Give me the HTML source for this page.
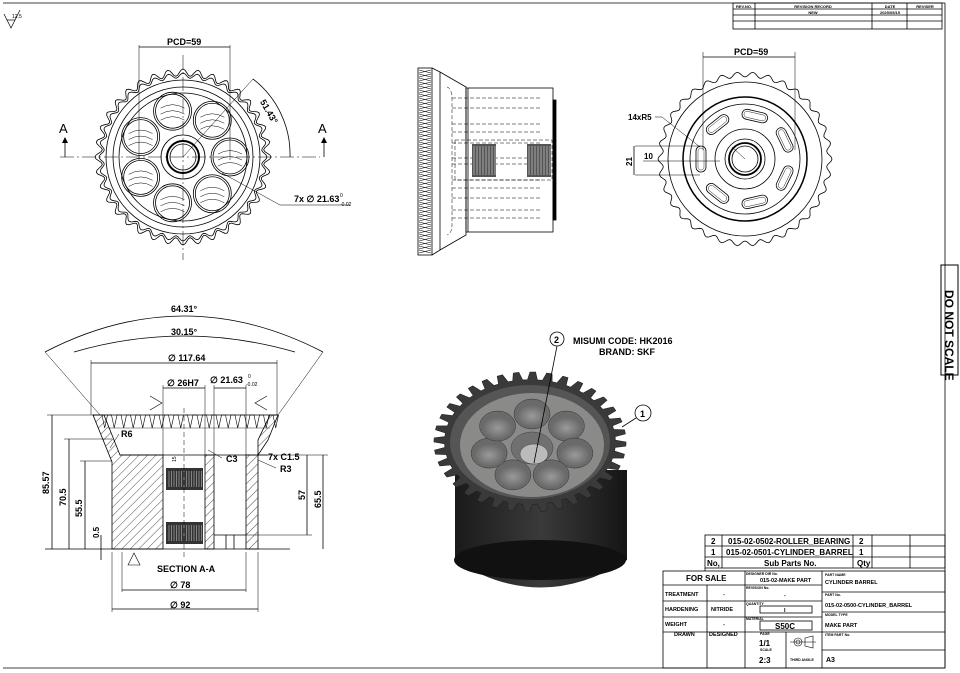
<!DOCTYPE html>
<html><head><meta charset="utf-8"><style>
html,body{margin:0;padding:0;background:#fff;}
svg{display:block;font-family:"Liberation Sans",Arial,sans-serif;}
text{fill:#000;}
</style></head><body>
<svg id="s" width="960" height="673" viewBox="0 0 960 673" xmlns="http://www.w3.org/2000/svg">
<defs>
<pattern id="h" width="6" height="6" patternUnits="userSpaceOnUse" patternTransform="rotate(45)"><line x1="0" y1="0" x2="0" y2="6" stroke="#000" stroke-width="0.7"/></pattern>
<radialGradient id="rg" cx="0.5" cy="0.5" r="0.5"><stop offset="0" stop-color="#9a9a9a"/><stop offset="1" stop-color="#6a6a6a"/></radialGradient>
<linearGradient id="cyl" x1="0" x2="1"><stop offset="0" stop-color="#1a1a1a"/><stop offset="0.5" stop-color="#3a3a3a"/><stop offset="1" stop-color="#151515"/></linearGradient>
</defs>
<g fill="none" stroke="#000" stroke-width="0.8">
<line x1="3" y1="3" x2="945" y2="3"/>
<line x1="945" y1="3" x2="945" y2="668"/>
<line x1="3" y1="668" x2="945" y2="668"/>
<rect x="941" y="265" width="17" height="110" stroke-width="1"/>
<rect x="733" y="3" width="209" height="26"/>
<line x1="733" y1="9" x2="942" y2="9"/><line x1="733" y1="15" x2="942" y2="15"/><line x1="733" y1="21" x2="942" y2="21"/>
<line x1="755" y1="3" x2="755" y2="29"/><line x1="872" y1="3" x2="872" y2="29"/><line x1="907" y1="3" x2="907" y2="29"/>
</g>
<g font-size="4" font-weight="bold" text-anchor="middle">
<text x="744" y="8">REV.NO.</text><text x="813" y="8">REVISION RECORD</text><text x="890" y="8">DATE</text><text x="925" y="8">REVISER</text>
<text x="813" y="14">NEW</text><text x="890" y="14">2025/05/15</text>
</g>
<text x="0" y="0" font-size="12" font-weight="bold" transform="translate(945,290) rotate(90)">DO NOT SCALE</text>
<g fill="none" stroke="#000" stroke-width="0.7"><path d="M4 14 L11 28 L20 10"/><line x1="7" y1="20" x2="15" y2="20"/></g>
<text x="12" y="18" font-size="5">12.5</text>

<g id="front"></g>
<g id="side"></g>
<g id="right"></g>
<g id="sect"></g>
<g id="iso"></g>

<g fill="none" stroke="#000" stroke-width="0.8">
<rect x="705" y="535" width="240" height="33"/>
<line x1="705" y1="546" x2="945" y2="546"/><line x1="705" y1="557" x2="945" y2="557"/>
<line x1="722" y1="535" x2="722" y2="568"/><line x1="853" y1="535" x2="853" y2="568"/><line x1="872" y1="535" x2="872" y2="568"/><line x1="910" y1="535" x2="910" y2="568"/>
<rect x="663" y="571" width="282" height="97"/>
<line x1="705" y1="568" x2="705" y2="571"/>
<line x1="663" y1="585" x2="822" y2="585"/><line x1="663" y1="601" x2="822" y2="601"/><line x1="663" y1="617" x2="822" y2="617"/><line x1="663" y1="632" x2="822" y2="632"/>
<line x1="707" y1="585" x2="707" y2="668"/><line x1="745" y1="571" x2="745" y2="668"/><line x1="822" y1="571" x2="822" y2="668"/><line x1="786" y1="632" x2="786" y2="668"/>
<line x1="822" y1="592" x2="945" y2="592"/><line x1="822" y1="612" x2="945" y2="612"/><line x1="822" y1="632" x2="945" y2="632"/><line x1="822" y1="650" x2="945" y2="650"/>
<rect x="760" y="606" width="52" height="7"/><rect x="760" y="621" width="52" height="9"/>
</g>
<g font-size="8" font-weight="bold">
<text x="711" y="544">2</text><text x="728" y="544">015-02-0502-ROLLER_BEARING</text><text x="859" y="544">2</text>
<text x="711" y="555">1</text><text x="726" y="555">015-02-0501-CYLINDER_BARREL</text><text x="859" y="555">1</text>
<text x="707" y="566">No,</text><text x="764" y="566">Sub Parts No.</text><text x="857" y="566">Qty</text>
<text x="686" y="581">FOR SALE</text>
</g>
<g font-size="5.5" font-weight="bold">
<text x="665" y="596">TREATMENT</text><text x="723" y="596">-</text>
<text x="665" y="611">HARDENING</text><text x="711" y="611">NITRIDE</text>
<text x="665" y="626">WEIGHT</text><text x="723" y="626">-</text>
<text x="674" y="636">DRAWN</text><text x="709" y="636">DESIGNED</text>
<text x="760" y="582">015-02-MAKE PART</text><text x="784" y="597">-</text><text x="784" y="612">I</text>
<text x="825" y="584">CYLINDER BARREL</text><text x="825" y="607">015-02-0500-CYLINDER_BARREL</text><text x="825" y="627">MAKE PART</text>
<text x="826" y="662" font-size="7">A3</text>
</g>
<g font-size="3.5" font-weight="bold">
<text x="746" y="575">DESIGNER DIR No.</text><text x="746" y="589">REVISION No.</text><text x="746" y="605">QUANTITY</text><text x="746" y="620">MATERIAL</text>
<text x="825" y="576">PART NAME</text><text x="825" y="596">PART No.</text><text x="825" y="616">MODEL TYPE</text><text x="825" y="636">ITEM PART No.</text>
<text x="760" y="635">PAGE</text><text x="760" y="651">SCALE</text><text x="790" y="661">THIRD ANGLE</text>
</g>
<g font-size="8" font-weight="bold"><text x="775" y="629">S50C</text><text x="759" y="646">1/1</text><text x="759" y="663">2:3</text></g>
<g fill="none" stroke="#000" stroke-width="0.6"><circle cx="798" cy="642" r="4"/><circle cx="798" cy="642" r="2"/><path d="M805 638 L813 636 L813 648 L805 646 Z"/><line x1="790" y1="642" x2="816" y2="642"/></g>

<circle cx="557" cy="339" r="7" fill="none" stroke="#000" stroke-width="0.8"/><text x="554" y="343" font-size="9" font-weight="bold">2</text>
<text x="573" y="344" font-size="9" font-weight="bold">MISUMI CODE: HK2016</text><text x="599" y="355" font-size="9" font-weight="bold">BRAND: SKF</text>
<circle cx="643" cy="413" r="8" fill="none" stroke="#000" stroke-width="0.8"/><text x="640" y="417" font-size="9" font-weight="bold">1</text>
</svg>
<script>
const NS="http://www.w3.org/2000/svg";
function el(p,t,a){const e=document.createElementNS(NS,t);for(const k in a)e.setAttribute(k,a[k]);document.getElementById(p).appendChild(e);return e;}
function tx(p,x,y,s,str,extra){const e=el(p,"text",Object.assign({x:x,y:y,"font-size":s},extra||{}));e.textContent=str;return e;}
const S={fill:"none",stroke:"#000","stroke-width":0.8};
function gear(p,cx,cy,ro,ri,n){let d="";for(let i=0;i<=n*8;i++){const a=i/(n*8)*Math.PI*2;const r=ri+(ro-ri)*(0.5+0.5*Math.cos(a*n));d+=(i?"L":"M")+(cx+r*Math.cos(a)).toFixed(1)+" "+(cy+r*Math.sin(a)).toFixed(1);}el(p,"path",Object.assign({d:d+"Z"},S));}
(function(){const p="front",cx=183,cy=157;
gear(p,cx,cy,88,81,36);gear(p,cx,cy,84,79,36);
el(p,"circle",Object.assign({cx,cy,r:77},S));el(p,"circle",Object.assign({cx,cy,r:70},S));el(p,"circle",Object.assign({cx,cy,r:64},S));
for(let i=0;i<7;i++){const a=i/7*Math.PI*2;const x=cx+47*Math.cos(a),y=cy+47*Math.sin(a);el(p,"circle",Object.assign({cx:x,cy:y,r:19},S));el(p,"circle",Object.assign({cx:x,cy:y,r:17},S));
for(let k=-1;k<=1;k++){el(p,"path",Object.assign({d:`M${x-12} ${y+k*6+3} Q${x} ${y+k*6-4} ${x+12} ${y+k*6+3}`},S,{"stroke-width":0.5}));}}
el(p,"circle",Object.assign({cx,cy,r:22},S));el(p,"circle",Object.assign({cx,cy,r:16},S,{"stroke-width":2}));el(p,"circle",Object.assign({cx,cy,r:13},S));
el(p,"line",Object.assign({x1:60,y1:cy,x2:320,y2:cy,"stroke-dasharray":"14 3 2 3"},S,{"stroke-width":0.5}));
el(p,"line",Object.assign({x1:cx,y1:55,x2:cx,y2:260,"stroke-dasharray":"14 3 2 3"},S,{"stroke-width":0.5}));
el(p,"line",Object.assign({x1:139,y1:45,x2:139,y2:160},S,{"stroke-width":0.5}));el(p,"line",Object.assign({x1:230,y1:45,x2:230,y2:160},S,{"stroke-width":0.5}));
el(p,"line",Object.assign({x1:139,y1:47,x2:230,y2:47},S));tx(p,167,45,9,"PCD=59",{"font-weight":"bold"});
el(p,"line",Object.assign({x1:cx,y1:cy,x2:253,y2:79},S,{"stroke-width":0.5}));
el(p,"path",Object.assign({d:"M253 79 A95 95 0 0 1 290 157"},S));tx(p,262,110,9,"51.43°",{"font-weight":"bold",transform:"rotate(60 268 104)"});
el(p,"line",Object.assign({x1:222,y1:173,x2:280,y2:205},S,{"stroke-width":0.5}));el(p,"line",Object.assign({x1:280,y1:205,x2:350,y2:205},S,{"stroke-width":0.5}));
tx(p,294,202,9,"7x ∅ 21.63",{"font-weight":"bold"});tx(p,340,197,5,"0");tx(p,340,206,5,"-0.02");
tx(p,59,133,13,"A");tx(p,318,133,13,"A");
el(p,"line",Object.assign({x1:65,y1:140,x2:65,y2:157},S));el(p,"line",Object.assign({x1:324,y1:140,x2:324,y2:157},S));
el(p,"path",{d:"M62 143 L65 137 L68 143Z",fill:"#000"});el(p,"path",{d:"M321 143 L324 137 L327 143Z",fill:"#000"});
})();
(function(){const p="side";
el(p,"rect",Object.assign({x:418,y:68,width:14,height:187},S));
for(let y=70;y<253;y+=4){el(p,"path",Object.assign({d:`M419 ${y} L431 ${y+3} M419 ${y+3} L431 ${y}`},S,{"stroke-width":0.6}));}
el(p,"path",Object.assign({d:"M432 68 L440 72 L466 87 L466 235 L440 250 L432 255"},S));
el(p,"line",Object.assign({x1:440,y1:72,x2:440,y2:250},S));
el(p,"rect",Object.assign({x:466,y:88,width:87,height:144},S));el(p,"line",Object.assign({x1:468,y1:88,x2:468,y2:232},S));
el(p,"rect",Object.assign({x:553,y:100,width:3,height:120},S,{fill:"#000"}));
el(p,"path",Object.assign({d:"M447 87 Q452 88 452 100 L452 225 Q452 233 447 235","stroke-dasharray":"4 2"},S,{"stroke-width":0.5}));
[98,108,124,132,143,158,164,180,188,198,210,218].forEach(y=>el(p,"line",Object.assign({x1:452,y1:y,x2:540,y2:y,"stroke-dasharray":"4 2"},S,{"stroke-width":0.5})));
el(p,"rect",Object.assign({x:455,y:140,width:97,height:40,"stroke-dasharray":"4 2"},S,{"stroke-width":0.5}));
el(p,"rect",{x:472,y:144,width:24,height:33,fill:"#555"});el(p,"rect",{x:527,y:144,width:24,height:33,fill:"#555"});
for(let x=474;x<496;x+=3){el(p,"line",{x1:x,y1:146,x2:x,y2:175,stroke:"#ddd","stroke-width":0.6});}
for(let x=529;x<551;x+=3){el(p,"line",{x1:x,y1:146,x2:x,y2:175,stroke:"#ddd","stroke-width":0.6});}
})();
(function(){const p="right",cx=745,cy=159;
gear(p,cx,cy,87,82,34);
el(p,"circle",Object.assign({cx,cy,r:77},S));el(p,"circle",Object.assign({cx,cy,r:62},S,{"stroke-width":1.5}));el(p,"circle",Object.assign({cx,cy,r:55},S));el(p,"circle",Object.assign({cx,cy,r:30},S));
el(p,"circle",Object.assign({cx,cy,r:20},S));el(p,"circle",Object.assign({cx,cy,r:16},S,{"stroke-width":1.8}));el(p,"circle",Object.assign({cx,cy,r:13},S));
for(let i=0;i<7;i++){const a=Math.PI+i/7*Math.PI*2;const x=cx+44*Math.cos(a),y=cy+44*Math.sin(a);const deg=a*180/Math.PI+90;
el(p,"rect",Object.assign({x:x-13,y:y-5,width:26,height:10,rx:5,transform:`rotate(${deg} ${x} ${y})`},S));el(p,"rect",Object.assign({x:x-11,y:y-3,width:22,height:6,rx:3,transform:`rotate(${deg} ${x} ${y})`},S,{"stroke-width":0.4}));}
el(p,"line",Object.assign({x1:703,y1:52,x2:703,y2:150},S,{"stroke-width":0.5}));el(p,"line",Object.assign({x1:795,y1:52,x2:795,y2:150},S,{"stroke-width":0.5}));
el(p,"line",Object.assign({x1:703,y1:57,x2:795,y2:57},S));tx(p,734,55,9,"PCD=59",{"font-weight":"bold"});
tx(p,628,120,8,"14xR5",{"font-weight":"bold"});el(p,"path",Object.assign({d:"M655 117 L662 117 L700 147"},S,{"stroke-width":0.5}));
el(p,"line",Object.assign({x1:635,y1:146,x2:700,y2:146},S,{"stroke-width":0.5}));el(p,"line",Object.assign({x1:635,y1:175,x2:700,y2:175},S,{"stroke-width":0.5}));
el(p,"line",Object.assign({x1:634,y1:146,x2:634,y2:175},S));tx(p,0,0,8,"21",{"font-weight":"bold",transform:"translate(632,166) rotate(-90)"});
el(p,"line",Object.assign({x1:643,y1:161,x2:720,y2:161},S,{"stroke-width":0.5}));tx(p,644,159,8,"10",{"font-weight":"bold"});
el(p,"line",Object.assign({x1:cx,y1:cy,x2:732,y2:147},S,{"stroke-width":0.5}));
})();
(function(){const p="sect";
el(p,"path",{d:"M93 415 L104 415 L120 455 L163 455 L163 549 L112 549 L112 462 Z",fill:"url(#h)",stroke:"#000","stroke-width":0.8});
el(p,"path",{d:"M205 455 L214 455 L214 549 L205 549 Z",fill:"url(#h)",stroke:"#000","stroke-width":0.8});
el(p,"path",{d:"M246 455 L258 455 L258 549 L246 549 Z",fill:"url(#h)",stroke:"#000","stroke-width":0.8});
el(p,"path",{d:"M258 455 L268 440 L278 415 L270 415 L258 440 Z",fill:"url(#h)",stroke:"#000","stroke-width":0.8});
let d="M100 415";for(let x=100;x<272;x+=9.5){d+=` L${x+2} 415 L${x+4.7} 428 L${x+7.5} 415`;}el(p,"path",Object.assign({d},S,{"stroke-width":0.6}));
el(p,"line",Object.assign({x1:93,y1:415,x2:278,y2:415},S));el(p,"line",Object.assign({x1:108,y1:428,x2:270,y2:428},S,{"stroke-width":0.4}));
el(p,"line",Object.assign({x1:120,y1:455,x2:268,y2:455},S));
el(p,"line",Object.assign({x1:214,y1:535,x2:246,y2:535},S));el(p,"line",Object.assign({x1:226,y1:535,x2:226,y2:549},S));el(p,"line",Object.assign({x1:234,y1:535,x2:234,y2:549},S));
[[166,468],[166,522]].forEach(([x,y])=>{el(p,"rect",{x:x,y:y,width:37,height:22,fill:"#333"});for(let i=x+3;i<x+36;i+=2.5)el(p,"line",{x1:i,y1:y+3,x2:i,y2:y+19,stroke:"#bbb","stroke-width":0.6});});
el(p,"line",Object.assign({x1:184,y1:408,x2:184,y2:560,"stroke-dasharray":"5 3"},S,{"stroke-width":0.5}));
el(p,"line",Object.assign({x1:45,y1:549,x2:290,y2:549},S));
el(p,"line",Object.assign({x1:45,y1:352,x2:100,y2:415},S,{"stroke-width":0.5}));el(p,"line",Object.assign({x1:323,y1:352,x2:278,y2:415},S,{"stroke-width":0.5}));
el(p,"path",Object.assign({d:"M45 352 Q184 280 323 352"},S));tx(p,171,312,9,"64.31°",{"font-weight":"bold"});
el(p,"path",Object.assign({d:"M74 352 Q184 320 295 352"},S));tx(p,171,335,9,"30.15°",{"font-weight":"bold"});
el(p,"line",Object.assign({x1:91,y1:360,x2:91,y2:415},S,{"stroke-width":0.5}));el(p,"line",Object.assign({x1:277,y1:360,x2:277,y2:415},S,{"stroke-width":0.5}));
el(p,"line",Object.assign({x1:91,y1:363,x2:277,y2:363},S));tx(p,168,361,9,"∅ 117.64",{"font-weight":"bold"});
el(p,"line",Object.assign({x1:163,y1:385,x2:163,y2:455},S,{"stroke-width":0.5}));el(p,"line",Object.assign({x1:205,y1:385,x2:205,y2:455},S,{"stroke-width":0.5}));
el(p,"line",Object.assign({x1:163,y1:388,x2:205,y2:388},S));tx(p,167,386,9,"∅ 26H7",{"font-weight":"bold"});
el(p,"line",Object.assign({x1:214,y1:388,x2:246,y2:388},S));el(p,"line",Object.assign({x1:214,y1:385,x2:214,y2:455},S,{"stroke-width":0.5}));el(p,"line",Object.assign({x1:246,y1:385,x2:246,y2:455},S,{"stroke-width":0.5}));
tx(p,210,383,9,"∅ 21.63",{"font-weight":"bold"});tx(p,248,378,5,"0");tx(p,246,386,5,"-0.02");
[[52,415,"85.57"],[69,439,"70.5"],[85,461,"55.5"]].forEach(([x,y,t])=>{el(p,"line",Object.assign({x1:x,y1:y,x2:x,y2:549},S));el(p,"line",Object.assign({x1:x-5,y1:y,x2:112,y2:y},S,{"stroke-width":0.5}));tx(p,0,0,9,t,{"font-weight":"bold",transform:`translate(${x-3},${(y+549)/2+12}) rotate(-90)`});});
el(p,"line",Object.assign({x1:101,y1:535,x2:101,y2:560},S));tx(p,0,0,8,"0.5",{"font-weight":"bold",transform:"translate(99,538) rotate(-90)"});
el(p,"line",Object.assign({x1:307,y1:455,x2:307,y2:535},S));el(p,"line",Object.assign({x1:246,y1:535,x2:312,y2:535},S,{"stroke-width":0.5}));tx(p,0,0,9,"57",{"font-weight":"bold",transform:"translate(305,500) rotate(-90)"});
el(p,"line",Object.assign({x1:323,y1:455,x2:323,y2:549},S));el(p,"line",Object.assign({x1:258,y1:455,x2:328,y2:455},S,{"stroke-width":0.5}));tx(p,0,0,9,"65.5",{"font-weight":"bold",transform:"translate(321,508) rotate(-90)"});
tx(p,121,437,9,"R6",{"font-weight":"bold"});el(p,"line",Object.assign({x1:119,y1:434,x2:110,y2:448},S,{"stroke-width":0.5}));
tx(p,226,462,9,"C3",{"font-weight":"bold"});el(p,"line",Object.assign({x1:222,y1:458,x2:208,y2:450},S,{"stroke-width":0.5}));
tx(p,268,460,9,"7x C1.5",{"font-weight":"bold"});tx(p,280,472,9,"R3",{"font-weight":"bold"});el(p,"line",Object.assign({x1:276,y1:468,x2:258,y2:460},S,{"stroke-width":0.5}));
tx(p,0,0,5,"15",{transform:"translate(176,462) rotate(-90)"});
tx(p,157,572,9,"SECTION A-A",{"font-weight":"bold"});
el(p,"line",Object.assign({x1:122,y1:552,x2:122,y2:592},S,{"stroke-width":0.5}));el(p,"line",Object.assign({x1:246,y1:552,x2:246,y2:592},S,{"stroke-width":0.5}));
el(p,"line",Object.assign({x1:122,y1:590,x2:246,y2:590},S));tx(p,170,588,9,"∅ 78",{"font-weight":"bold"});
el(p,"line",Object.assign({x1:112,y1:552,x2:112,y2:612},S,{"stroke-width":0.5}));el(p,"line",Object.assign({x1:258,y1:552,x2:258,y2:612},S,{"stroke-width":0.5}));
el(p,"line",Object.assign({x1:112,y1:609,x2:258,y2:609},S));tx(p,170,608,9,"∅ 92",{"font-weight":"bold"});
el(p,"path",Object.assign({d:"M128 565 L134 553 L140 565 Z"},S,{"stroke-width":0.6}));
el(p,"path",Object.assign({d:"M150 396 L162 403 L150 410"},S,{"stroke-width":0.6}));el(p,"path",Object.assign({d:"M267 396 L255 403 L267 410"},S,{"stroke-width":0.6}));
})();
(function(){const p="iso",cx=530,cy=442;
el(p,"path",{d:"M455 470 L455 560 Q540 615 627 560 L627 470 Z",fill:"url(#cyl)"});
el(p,"ellipse",{cx:540,cy:560,rx:86,ry:20,fill:"#111"});
let d="";const n=36;for(let i=0;i<=n*6;i++){const a=i/(n*6)*Math.PI*2;const t=(i%6);const r=(t<3)?1:0.89;d+=(i?"L":"M")+(cx+96*r*Math.cos(a)).toFixed(1)+" "+(cy+70*r*Math.sin(a)).toFixed(1);}
el(p,"path",{d:d+"Z",fill:"#3a3a3a",stroke:"#222","stroke-width":0.6});
el(p,"ellipse",{cx:cx,cy:cy,rx:80,ry:57,fill:"#555"});
el(p,"ellipse",{cx:cx+2,cy:cy+3,rx:72,ry:52,fill:"#8a8a88"});
for(let i=0;i<7;i++){const a=-Math.PI/2+i/7*Math.PI*2;const x=cx+2+44*Math.cos(a),y=cy+4+32*Math.sin(a);el(p,"ellipse",{cx:x,cy:y,rx:18,ry:15,fill:"#6a6a6a",stroke:"#333","stroke-width":0.5});el(p,"ellipse",{cx:x,cy:y+2,rx:15,ry:11,fill:"url(#rg)"});}
el(p,"ellipse",{cx:cx+2,cy:cy+6,rx:21,ry:16,fill:"#707070",stroke:"#444","stroke-width":0.5});
el(p,"ellipse",{cx:cx+4,cy:cy+12,rx:14,ry:10,fill:"#bbb",stroke:"#444","stroke-width":0.5});
el(p,"line",{x1:557,y1:346,x2:534,y2:463,stroke:"#000","stroke-width":0.8});
el(p,"line",{x1:636,y1:418,x2:622,y2:427,stroke:"#000","stroke-width":0.8});
})();
</script>
</body></html>
